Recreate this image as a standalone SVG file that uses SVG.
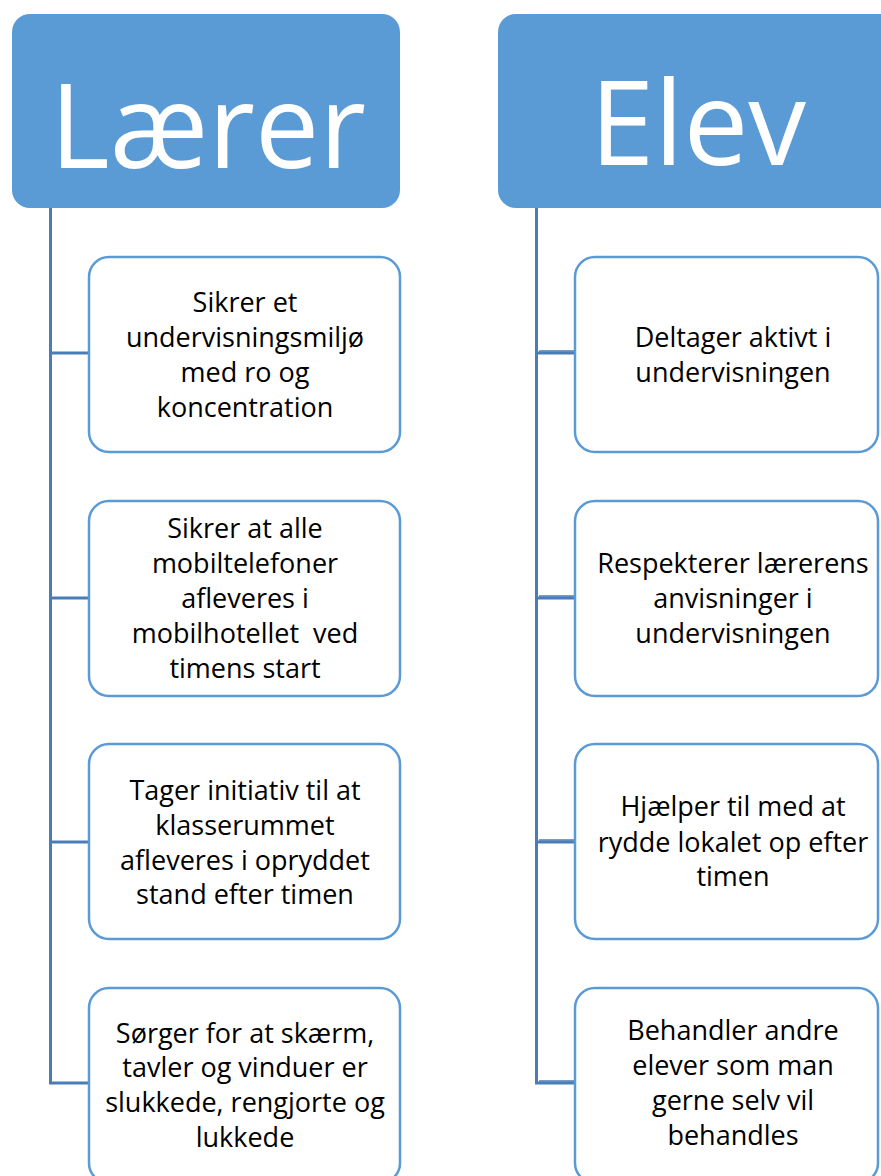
<svg xmlns="http://www.w3.org/2000/svg" width="881" height="1176" viewBox="0 0 881 1176">
<style>
.hdr{fill:#5B9BD5;}
.box{fill:#FFFFFF;stroke:#5B9BD5;stroke-width:2.5;}
.con{fill:none;stroke:#4A7DB8;stroke-width:3;}
.con2{fill:none;stroke:#4A7DB8;stroke-width:1.5;}
.ht{font-family:"Open Sans","Noto Sans",sans-serif;font-size:118px;fill:#FFFFFF;text-anchor:middle;}
.t{font-family:"Open Sans","Noto Sans",sans-serif;font-size:27px;fill:#000000;text-anchor:middle;}
</style>
<rect width="881" height="1176" fill="#FFFFFF"/>
<g id="connectors">
<path class="con" d="M50.5,208 V1083 H90"/>
<path class="con" d="M50.5,353 H90 M50.5,598 H90 M50.5,842 H90"/>
<path class="con" d="M536.5,208 V1083 H576"/>
<path class="con2" d="M539,351 H585 M539,596 H576 M539,840 H576 M539,1081 H585"/>
<path class="con" d="M536.5,353 H576 M536.5,598 H576 M536.5,842 H576"/>
</g>
<g id="laerer">
<rect class="hdr" x="12" y="14" width="388" height="194" rx="18"/>
<text class="ht" x="208" y="168" textLength="316" lengthAdjust="spacingAndGlyphs">Lærer</text>
</g>
<g id="elev">
<rect class="hdr" x="498" y="14" width="400" height="194" rx="18"/>
<text class="ht" x="698" y="165" textLength="216" lengthAdjust="spacingAndGlyphs">Elev</text>
</g>
<g id="l1">
<rect class="box" x="89" y="257" width="311" height="195" rx="20"/>
<text class="t" x="245" y="312">Sikrer et</text>
<text class="t" x="245" y="347">undervisningsmiljø</text>
<text class="t" x="245" y="382">med ro og</text>
<text class="t" x="245" y="417">koncentration</text>
</g>
<g id="l2">
<rect class="box" x="89" y="501" width="311" height="195" rx="20"/>
<text class="t" x="245" y="538">Sikrer at alle</text>
<text class="t" x="245" y="573">mobiltelefoner</text>
<text class="t" x="245" y="608">afleveres i</text>
<text class="t" x="245" y="643" style="white-space:pre">mobilhotellet  ved</text>
<text class="t" x="245" y="678">timens start</text>
</g>
<g id="l3">
<rect class="box" x="89" y="744" width="311" height="195" rx="20"/>
<text class="t" x="245" y="800">Tager initiativ til at</text>
<text class="t" x="245" y="835">klasserummet</text>
<text class="t" x="245" y="870">afleveres i opryddet</text>
<text class="t" x="245" y="904">stand efter timen</text>
</g>
<g id="l4">
<rect class="box" x="89" y="988" width="311" height="195" rx="20"/>
<text class="t" x="245" y="1043">Sørger for at skærm,</text>
<text class="t" x="245" y="1077">tavler og vinduer er</text>
<text class="t" x="245" y="1112">slukkede, rengjorte og</text>
<text class="t" x="245" y="1147">lukkede</text>
</g>
<g id="e1">
<rect class="box" x="575" y="257" width="303" height="195" rx="20"/>
<text class="t" x="733" y="347">Deltager aktivt i</text>
<text class="t" x="733" y="382">undervisningen</text>
</g>
<g id="e2">
<rect class="box" x="575" y="501" width="303" height="195" rx="20"/>
<text class="t" x="733" y="573">Respekterer lærerens</text>
<text class="t" x="733" y="608">anvisninger i</text>
<text class="t" x="733" y="643">undervisningen</text>
</g>
<g id="e3">
<rect class="box" x="575" y="744" width="303" height="195" rx="20"/>
<text class="t" x="733" y="816">Hjælper til med at</text>
<text class="t" x="733" y="852">rydde lokalet op efter</text>
<text class="t" x="733" y="886">timen</text>
</g>
<g id="e4">
<rect class="box" x="575" y="988" width="303" height="195" rx="20"/>
<text class="t" x="733" y="1040">Behandler andre</text>
<text class="t" x="733" y="1075">elever som man</text>
<text class="t" x="733" y="1110">gerne selv vil</text>
<text class="t" x="733" y="1145">behandles</text>
</g>
</svg>
